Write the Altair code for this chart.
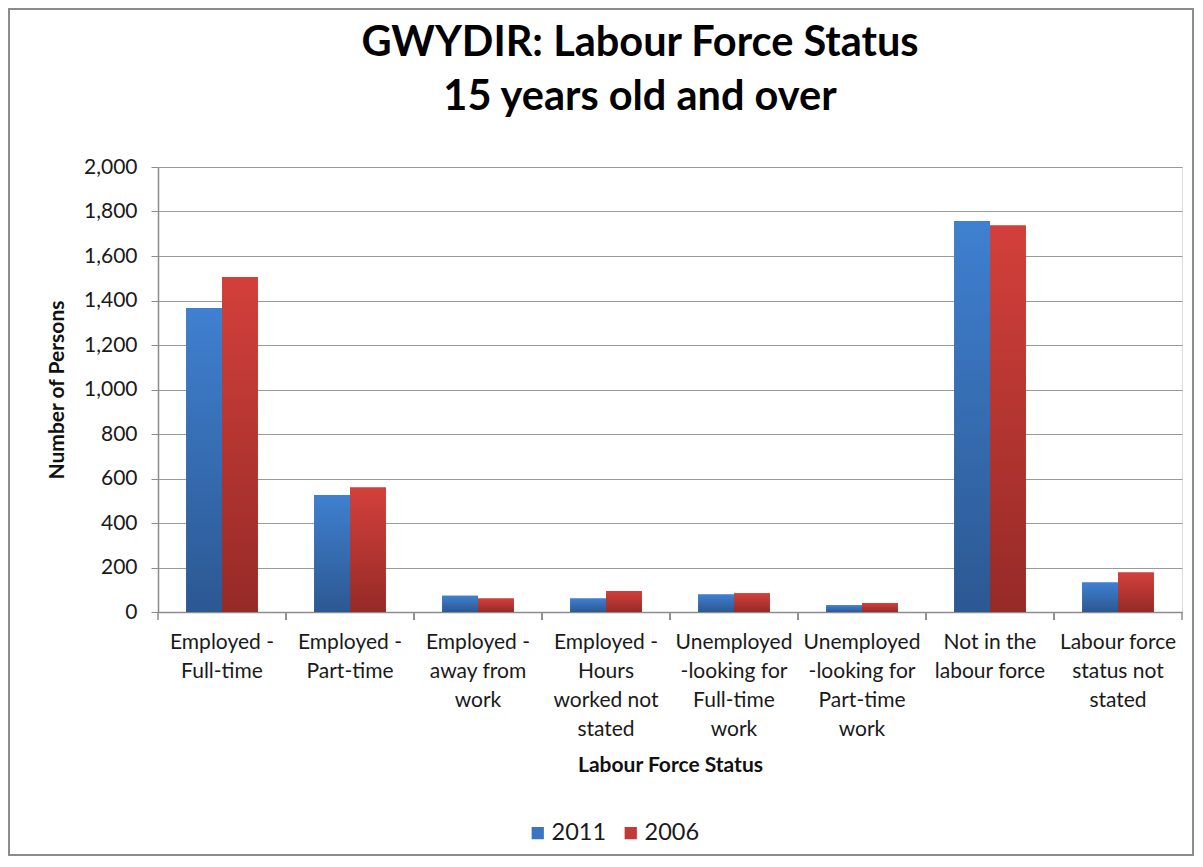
import altair as alt
import pandas as pd

# ---- data ----
categories = [
    "Employed -|Full-time",
    "Employed -|Part-time",
    "Employed -|away from|work",
    "Employed -|Hours|worked not|stated",
    "Unemployed|-looking for|Full-time|work",
    "Unemployed|-looking for|Part-time|work",
    "Not in the|labour force",
    "Labour force|status not|stated",
]
values_2011 = [1366, 526, 73, 61, 79, 30, 1757, 133]
values_2006 = [1506, 559, 61, 94, 84, 40, 1737, 177]
years = ["2011", "2006"]
y_ticks = list(range(0, 2001, 200))
title_lines = ["GWYDIR: Labour Force Status", "15 years old and over"]

rows = []
for c, a, b in zip(categories, values_2011, values_2006):
    rows.append({"category": c, "year": "2011", "persons": a})
    rows.append({"category": c, "year": "2006", "persons": b})
df = pd.DataFrame(rows)

FONT = "Lato"
W, H = 1024, 445
BLUE, RED = "#3A74C2", "#C23A37"


def grad(top, bottom):
    return alt.Gradient(
        gradient="linear",
        stops=[alt.GradientStop(color=top, offset=0), alt.GradientStop(color=bottom, offset=1)],
        x1=0, x2=0, y1=0, y2=1,
    )


x_enc = alt.X(
    "category:N",
    sort=categories,
    scale=alt.Scale(paddingInner=0, paddingOuter=0),
    axis=alt.Axis(
        title="Labour Force Status",
        labelExpr="split(datum.label, '|')",
        labelAngle=0,
        labelAlign="center",
        labelBaseline="top",
        labelFont=FONT,
        labelFontSize=21,
        labelLineHeight=29,
        labelColor="#1a1a1a",
        labelPadding=19,
        ticks=False,
        domainColor="#8c8c8c",
        domainWidth=1.5,
        titleFont=FONT,
        titleFontSize=21,
        titleFontWeight="bold",
        titleColor="#111111",
        titlePadding=15,
        labelOverlap=False,
        labelBound=False,
    ),
)
xoff_enc = alt.XOffset(
    "year:N",
    scale=alt.Scale(domain=years, paddingInner=0, paddingOuter=0.7857),
)
y_enc = alt.Y(
    "persons:Q",
    scale=alt.Scale(domain=[0, 2000], nice=False),
    axis=alt.Axis(
        title="Number of Persons",
        values=y_ticks,
        format=",d",
        labelFont=FONT,
        labelFontSize=21,
        labelColor="#1a1a1a",
        labelPadding=14,
        tickSize=7,
        tickColor="#8c8c8c",
        domainColor="#8c8c8c",
        domainWidth=1.5,
        gridColor="#9a9a9a",
        gridWidth=1.2,
        titleFont=FONT,
        titleFontSize=21,
        titleFontWeight="bold",
        titleColor="#111111",
        titlePadding=16,
    ),
)

flat = alt.Chart(df).mark_bar().encode(
    x=x_enc,
    xOffset=xoff_enc,
    y=y_enc,
    color=alt.Color(
        "year:N",
        scale=alt.Scale(domain=years, range=[BLUE, RED]),
        legend=alt.Legend(
            title=None,
            orient="none",
            direction="horizontal",
            legendX=368,
            legendY=654,
            symbolType="square",
            symbolSize=150,
            symbolStrokeWidth=0,
            labelFont=FONT,
            labelFontSize=23.5,
            labelColor="#1a1a1a",
            labelOffset=2,
            columnPadding=12,
        ),
    ),
)

bars11 = alt.Chart(df).transform_filter(alt.datum.year == "2011").mark_bar(
    color=grad("#3F80D0", "#2C5892")
).encode(x=alt.X("category:N", sort=categories), xOffset=alt.XOffset("year:N"), y="persons:Q")

bars06 = alt.Chart(df).transform_filter(alt.datum.year == "2006").mark_bar(
    color=grad("#D3403B", "#962A27")
).encode(x=alt.X("category:N", sort=categories), xOffset=alt.XOffset("year:N"), y="persons:Q")

cat_df = pd.DataFrame({"category": categories})
ticks_start = alt.Chart(cat_df).mark_rule(color="#8c8c8c", strokeWidth=1.5).encode(
    x=alt.X("category:N", sort=categories, bandPosition=0),
    y=alt.value(H),
    y2=alt.value(H + 8),
)
ticks_end = alt.Chart(cat_df).mark_rule(color="#8c8c8c", strokeWidth=1.5).encode(
    x=alt.X("category:N", sort=categories, bandPosition=1),
    y=alt.value(H),
    y2=alt.value(H + 8),
)

one = pd.DataFrame({"a": [0]})
border = alt.Chart(one).mark_rect(
    filled=False, stroke="#8c8c8c", strokeWidth=2, clip=False
).encode(
    x=alt.value(-149), x2=alt.value(W + 11), y=alt.value(-158), y2=alt.value(688)
)

title_style = dict(font=FONT, fontSize=41.5, fontWeight="bold", color="#000000",
                   align="center", baseline="alphabetic", clip=False)
title1 = alt.Chart(one).mark_text(**title_style).encode(
    x=alt.value(482), y=alt.value(56 - 167), text=alt.value(title_lines[0])
)
title2 = alt.Chart(one).mark_text(**title_style).encode(
    x=alt.value(482), y=alt.value(110 - 167), text=alt.value(title_lines[1])
)

chart = alt.layer(flat, bars11, bars06, ticks_start, ticks_end, border, title1, title2).properties(
    width=W,
    height=H,
    padding={"left": 150, "top": 159, "right": 12, "bottom": 245},
    autosize=alt.AutoSizeParams(type="none"),
).configure_view(stroke=None).configure(background="white")

chart.save("out.html", embed_options={"renderer": "svg", "actions": False})
